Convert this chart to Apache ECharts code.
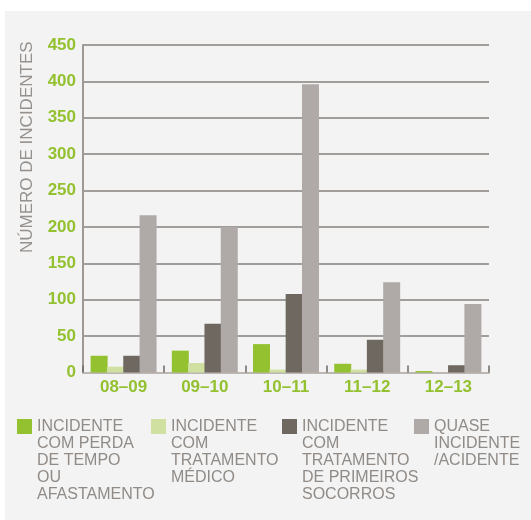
<!DOCTYPE html>
<html>
<head>
<meta charset="utf-8">
<script src="https://cdn.jsdelivr.net/npm/echarts@6/dist/echarts.min.js"></script>
<style>
html,body{margin:0;padding:0;background:#ffffff;}
#chart{width:531px;height:520px;}
</style>
</head>
<body>
<div id="chart"></div>
<script>
var categories = ['08–09', '09–10', '10–11', '11–12', '12–13'];
var perdaTempo = [23, 30, 39, 12, 2];
var tratMedico = [8, 13, 4, 4, 0];
var primSocorros = [23, 67, 108, 45, 10];
var quaseIncidente = [216, 200, 396, 124, 94];
var seriesNames = ['perda', 'medico', 'socorros', 'quase'];
var legendLabels = [
  'INCIDENTE\nCOM PERDA\nDE TEMPO\nOU\nAFASTAMENTO',
  'INCIDENTE\nCOM\nTRATAMENTO\nMÉDICO',
  'INCIDENTE\nCOM\nTRATAMENTO\nDE PRIMEIROS\nSOCORROS',
  'QUASE\nINCIDENTE\n/ACIDENTE'
];
var yAxisTitle = 'NÚMERO DE INCIDENTES';
var colors = ['#93c12f', '#cfe0a1', '#6e6861', '#afaaa7'];
var values = [perdaTempo, tratMedico, primSocorros, quaseIncidente];

var chart = echarts.init(document.getElementById('chart'), null, {renderer: 'canvas'});

var legendLeft = [17, 151, 282, 414];
var LH = 17;
var iconCenter = 426.5;
var legends = seriesNames.map(function (n, i) {
  var lines = legendLabels[i].split('\n').length;
  var pad = new Array(lines).join('\n');
  var total = 2 * lines - 1;
  return {
    show: true,
    data: [n],
    left: legendLeft[i],
    top: iconCenter - total * LH / 2,
    padding: 0,
    itemWidth: 15,
    itemHeight: 15,
    icon: 'rect',
    selectedMode: false,
    formatter: function () { return pad + legendLabels[i]; },
    textStyle: {
      fontFamily: 'Liberation Sans',
      fontSize: 16,
      lineHeight: LH,
      color: '#908b87'
    }
  };
});

var option = {
  backgroundColor: '#ffffff',
  animation: false,
  graphic: [
    {type: 'rect', z: -10, silent: true, shape: {x: 5, y: 11, width: 530, height: 515}, style: {fill: '#f3f3f3'}},
    {type: 'text', z: 10, silent: true, x: 27, y: 253, rotation: Math.PI / 2,
      style: {text: yAxisTitle, fill: '#96918d', font: '17px "Liberation Sans"', align: 'left', verticalAlign: 'middle'}}
  ],
  legend: legends,
  grid: {left: 83, right: 42, top: 45, bottom: 147.5, containLabel: false},
  xAxis: {
    type: 'category',
    data: categories,
    axisLine: {show: true, lineStyle: {color: '#bcb7b3', width: 2}},
    axisTick: {show: true, inside: true, length: 7, lineStyle: {color: '#6e6861', width: 1.5}},
    axisLabel: {color: '#93c12f', fontFamily: 'Liberation Sans', fontWeight: 'bold', fontSize: 17, margin: 6}
  },
  yAxis: {
    type: 'value',
    min: 0, max: 450, interval: 50,
    axisLine: {show: true, lineStyle: {color: '#9e9995', width: 2}},
    axisTick: {show: false},
    splitLine: {show: true, lineStyle: {color: '#86807c', width: 1.5}},
    axisLabel: {color: '#93c12f', fontFamily: 'Liberation Sans', fontWeight: 'bold', fontSize: 17, margin: 7}
  },
  series: seriesNames.map(function (n, i) {
    return {
      name: n,
      type: 'bar',
      data: values[i],
      barWidth: 17,
      barGap: '-4%',
      itemStyle: {color: colors[i]},
      z: 3
    };
  })
};
chart.setOption(option);
</script>
</body>
</html>
